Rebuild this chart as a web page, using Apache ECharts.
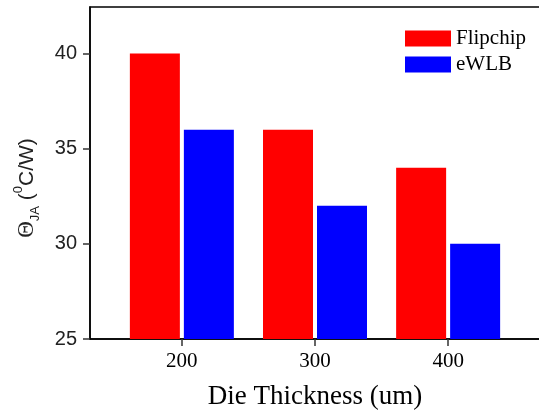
<!DOCTYPE html>
<html>
<head>
<meta charset="utf-8">
<script src="https://cdn.jsdelivr.net/npm/echarts@6/dist/echarts.min.js"></script>
<style>html,body{margin:0;padding:0;background:#fff}#c{width:539px;height:410px}</style>
</head>
<body>
<div id="c"></div>
<script>
var thickness = [200, 300, 400];
var flipchip = [40, 36, 34];
var ewlb = [36, 32, 30];
var yTicks = [25, 30, 35, 40];

var chart = echarts.init(document.getElementById('c'));
chart.setOption({
  animation: false,
  grid: {left: 90, right: -1, top: 7, bottom: 71, show: true, borderColor: '#000', borderWidth: 1.5,
         backgroundColor: 'transparent', containLabel: false, outerBoundsMode: 'none'},
  legend: {
    left: 400, top: 23, orient: 'vertical', itemWidth: 46, itemHeight: 16, itemGap: 5,
    icon: 'rect',
    textStyle: {fontFamily: 'Liberation Serif', fontSize: 21, color: '#000', padding: [0,0,0,0]},
    data: ['Flipchip', 'eWLB']
  },
  xAxis: {
    type: 'value', min: 131, max: 469,
    axisLine: {show: true, lineStyle: {color: '#000', width: 1.5}},
    axisTick: {show: true, length: 7, customValues: thickness, lineStyle: {color: '#333', width: 1.5}},
    axisLabel: {show: true, customValues: thickness, margin: 12, fontFamily: 'Liberation Serif', fontSize: 21, color: '#000'},
    splitLine: {show: false},
    name: 'Die Thickness (um)', nameLocation: 'middle', nameGap: 44,
    nameTextStyle: {fontFamily: 'Liberation Serif', fontSize: 27, color: '#000'}
  },
  yAxis: {
    type: 'value', min: 25, max: 42.45,
    axisLine: {show: true, lineStyle: {color: '#000', width: 1.5}},
    axisTick: {show: true, length: 7, customValues: yTicks, lineStyle: {color: '#333', width: 1.5}},
    axisLabel: {show: true, customValues: yTicks, margin: 13, fontFamily: 'Liberation Sans', fontSize: 20, color: '#222'},
    splitLine: {show: false}
  },
  graphic: [{
    type: 'text', x: 27, y: 188, rotation: Math.PI / 2,
    style: {
      text: '{t|Θ}{sub|JA}{m| (}{sup|0}{m|C/W)}',
      align: 'center', verticalAlign: 'middle',
      rich: {
        t: {fontFamily: 'Liberation Serif', fontSize: 23, fill: '#222', lineHeight: 30},
        m: {fontFamily: 'Liberation Sans', fontSize: 21, fill: '#222', lineHeight: 30},
        sub: {fontFamily: 'Liberation Sans', fontSize: 13, fill: '#222', verticalAlign: 'bottom', lineHeight: 13},
        sup: {fontFamily: 'Liberation Sans', fontSize: 13, fill: '#222', verticalAlign: 'top', lineHeight: 13}
      }
    }
  }],
  series: [
    {name: 'Flipchip', type: 'bar', barWidth: 50, barGap: '8%', itemStyle: {color: '#ff0000'},
     data: thickness.map(function (t, i) { return [t, flipchip[i]]; })},
    {name: 'eWLB', type: 'bar', barWidth: 50, barGap: '8%', itemStyle: {color: '#0000ff'},
     data: thickness.map(function (t, i) { return [t, ewlb[i]]; })}
  ]
});
</script>
</body>
</html>
